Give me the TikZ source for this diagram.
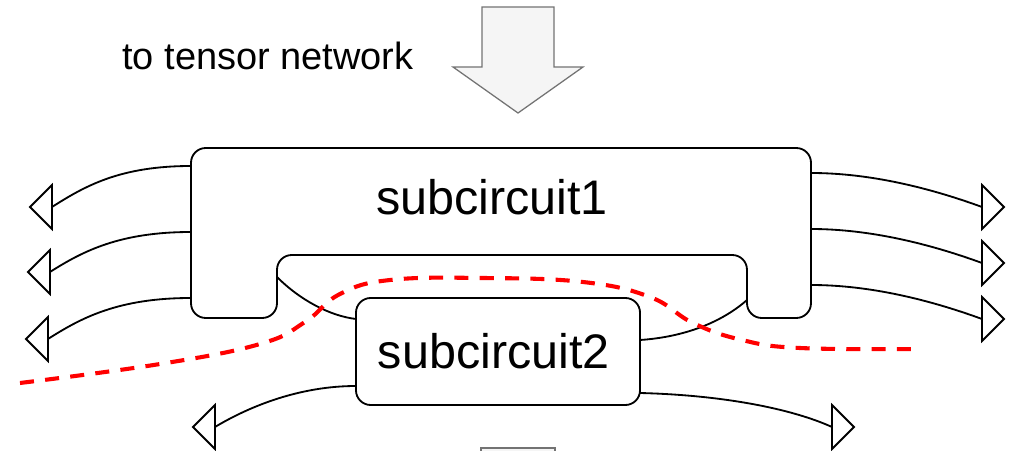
\documentclass[tikz,border=0pt]{standalone}
\usepackage{fontspec}
\setmainfont{Liberation Sans}
\usetikzlibrary{arrows.meta}
\newcommand\sclabelfont{\fontsize{34.5}{40}\selectfont}
\newcommand\captionfont{\fontsize{27}{32}\selectfont}
\tikzset{
  wire/.style={line width=1.3pt, black},
  box/.style={wire, rounded corners=10.5pt},
  cut/.style={red, line width=2.9pt, dash pattern=on 10pt off 8pt},
  bigarrow/.style={fill=black!4, draw=black!55, line width=0.9pt},
  lefttip/.pic={\draw[wire, fill=white, line join=miter] (0,-22) -- (-22,0) -- (0,22) -- cycle;},
  righttip/.pic={\draw[wire, fill=white, line join=miter] (0,-22) -- (22,0) -- (0,22) -- cycle;}
}
\begin{document}
\begin{tikzpicture}[x=0.025cm, y=-0.025cm]
\useasboundingbox (0,0) rectangle (1020,451);

% incoming block arrow
\draw[bigarrow] (482,7) -- (554,7) -- (554,67) -- (583,67) -- (518,113)
  -- (453,67) -- (482,67) -- cycle;
\node[anchor=base west, inner sep=0, font=\captionfont] (caption) at (122,70) {to tensor network};

% outgoing block arrow, cut by the lower edge
\begin{scope}
  \clip (0,0) rectangle (1020,451);
  \draw[bigarrow] (481,448) -- (555,448) -- (555,520) -- (481,520) -- cycle;
\end{scope}

% subcircuit 1: a box with a notch underneath
\draw[box] (191,148) -- (811,148) -- (811,318) -- (747,318) -- (747,255)
  -- (277,255) -- (277,318) -- (191,318) -- cycle;
\node[anchor=base, inner sep=0, font=\sclabelfont] (sc1) at (492,215) {subcircuit1};

% ports of subcircuit 1
\coordinate (l1) at (191,166);
\coordinate (l2) at (191,232);
\coordinate (l3) at (191,298);
\coordinate (r1) at (811,173);
\coordinate (r2) at (811,229);
\coordinate (r3) at (811,285);
\coordinate (nl) at (277,277);
\coordinate (nr) at (747,300);

% subcircuit 2
\node[box, draw, fill=white, minimum width=7.1cm, minimum height=2.675cm,
  inner sep=0, font=\sclabelfont] (sc2) at (498,351.5) {\hspace*{-6pt}subcircuit2};
\coordinate (c2a) at (356,319);
\coordinate (c2b) at (640,340);
\coordinate (c2l) at (356,386);
\coordinate (c2r) at (640,393);

% arrow bases and tips
\coordinate (tl1) at (52,207);
\coordinate (tl2) at (50,272);
\coordinate (tl3) at (48,339);
\coordinate (tr1) at (982,207);
\coordinate (tr2) at (982,263);
\coordinate (tr3) at (982,319);
\coordinate (tbl) at (215,427);
\coordinate (tbr) at (832,427);

% legs between the two subcircuits
\draw[wire] (nl) .. controls (300,300) and (330,316) .. (c2a);
\draw[wire] (c2b) .. controls (685,337) and (722,322) .. (nr);

% open legs of subcircuit 1
\draw[wire] (l1) .. controls (120,166) and (85,186) .. (tl1);
\draw[wire] (l2) .. controls (120,232) and (83,251) .. (tl2);
\draw[wire] (l3) .. controls (118,298) and (81,318) .. (tl3);
\draw[wire] (r1) .. controls (870,173) and (930,188) .. (tr1);
\draw[wire] (r2) .. controls (870,229) and (930,244) .. (tr2);
\draw[wire] (r3) .. controls (870,285) and (930,300) .. (tr3);

% open legs of subcircuit 2
\draw[wire] (c2l) .. controls (300,386) and (250,406) .. (tbl);
\draw[wire] (c2r) .. controls (720,395) and (790,408) .. (tbr);

\pic at (tl1) {lefttip};
\pic at (tl2) {lefttip};
\pic at (tl3) {lefttip};
\pic at (tbl) {lefttip};
\pic at (tr1) {righttip};
\pic at (tr2) {righttip};
\pic at (tr3) {righttip};
\pic at (tbr) {righttip};

% cut line
\draw[cut] plot[smooth, tension=0.7] coordinates {(20,383) (160,364) (260,344)
  (305,322) (340,294) (390,280) (483,278) (583,282) (650,297) (693,323)
  (742,340) (800,348) (917,349)};
\end{tikzpicture}
\end{document}
